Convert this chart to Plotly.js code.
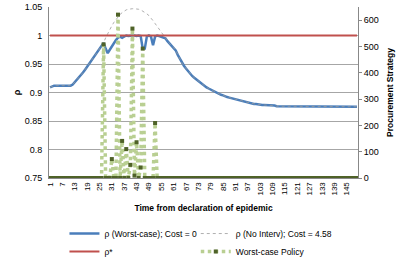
<!DOCTYPE html>
<html>
<head>
<meta charset="utf-8">
<script src="https://cdn.plot.ly/plotly-3.0.1.min.js"></script>
<style>html,body{margin:0;padding:0;background:#fff;}#chart{width:405px;height:260px;}</style>
</head>
<body>
<div id="chart"></div>
<script>
const days = [1,2,3,4,5,6,7,8,9,10,11,12,13,14,15,16,17,18,19,20,21,22,23,24,25,26,27,28,29,30,
31,32,33,34,35,36,37,38,39,40,41,42,43,44,45,46,47,48,49,50,51,52,53,54,55,56,57,58,59,60,
61,62,63,64,65,66,67,68,69,70,71,72,73,74,75,76,77,78,79,80,81,82,83,84,85,86,87,88,89,90,
91,92,93,94,95,96,97,98,99,100,101,102,103,104,105,106,107,108,109,110,111,112,113,114,115,116,117,118,119,120,
121,122,123,124,125,126,127,128,129,130,131,132,133,134,135,136,137,138,139,140,141,142,143,144,145,146,147,148,149,150];

const xTicks = [1,7,13,19,25,31,37,43,49,55,61,67,73,79,85,91,97,103,109,115,121,127,133,139,145];

const rhoWorstCase = [
0.909,0.911,0.912,0.912,0.912,0.912,0.912,0.911,0.911,0.911,
0.912,0.914,0.918,0.922,0.926,0.931,0.935,0.940,0.945,0.950,
0.955,0.961,0.966,0.971,0.977,0.982,0.987,0.977,0.969,0.975,
0.981,0.987,0.992,0.996,0.998,0.996,0.998,1.000,0.999,1.000,
1.000,1.000,0.999,1.000,0.999,0.977,0.977,0.998,1.000,0.998,
0.983,0.998,1.000,0.999,0.998,0.997,0.995,0.990,0.986,0.982,
0.979,0.974,0.966,0.959,0.952,0.947,0.942,0.937,0.933,0.929,
0.926,0.923,0.920,0.917,0.914,0.912,0.909,0.907,0.905,0.903,
0.901,0.899,0.898,0.896,0.895,0.893,0.892,0.891,0.890,0.889,
0.888,0.887,0.886,0.885,0.884,0.884,0.883,0.882,0.881,0.880,
0.880,0.879,0.879,0.878,0.878,0.878,0.877,0.877,0.877,0.877,
0.876,0.876,0.876,0.876,0.876,0.876,0.876,0.876,0.875,0.875,
0.875,0.875,0.875,0.875,0.875,0.875,0.875,0.875,0.875,0.875,
0.875,0.875,0.875,0.875,0.875,0.875,0.875,0.875,0.875,0.875,
0.875,0.875,0.875,0.875,0.875,0.875,0.875,0.875,0.875,0.875];

const rhoNoInterv = [
0.909,0.911,0.912,0.912,0.912,0.912,0.912,0.911,0.911,0.911,
0.912,0.914,0.918,0.922,0.926,0.931,0.935,0.940,0.945,0.950,
0.955,0.961,0.966,0.971,0.977,0.982,0.987,0.996,1.004,1.011,
1.017,1.023,1.028,1.033,1.037,1.040,1.043,1.045,1.046,1.047,
1.047,1.047,1.047,1.046,1.045,1.043,1.041,1.038,1.035,1.031,
1.026,1.021,1.016,1.010,1.004,0.999,0.994,0.990,0.986,0.982,
0.979,0.974,0.966,0.959,0.952,0.947,0.942,0.937,0.933,0.929,
0.926,0.923,0.920,0.917,0.914,0.912,0.909,0.907,0.905,0.903,
0.901,0.899,0.898,0.896,0.895,0.893,0.892,0.891,0.890,0.889,
0.888,0.887,0.886,0.885,0.884,0.884,0.883,0.882,0.881,0.880,
0.880,0.879,0.879,0.878,0.878,0.878,0.877,0.877,0.877,0.877,
0.876,0.876,0.876,0.876,0.876,0.876,0.876,0.876,0.875,0.875,
0.875,0.875,0.875,0.875,0.875,0.875,0.875,0.875,0.875,0.875,
0.875,0.875,0.875,0.875,0.875,0.875,0.875,0.875,0.875,0.875,
0.875,0.875,0.875,0.875,0.875,0.875,0.875,0.875,0.875,0.875];

const rhoStar = 1;

const worstCasePolicy = [
0,0,0,0,0,0,0,0,0,0,
0,0,0,0,0,0,0,0,0,0,
0,0,0,0,0,0,508,0,0,0,
72,0,0,621,0,141,0,110,0,50,
568,9,136,0,40,492,0,0,0,0,
0,209,0,0,0,0,0,0,0,0,
0,0,0,0,0,0,0,0,0,0,
0,0,0,0,0,0,0,0,0,0,
0,0,0,0,0,0,0,0,0,0,
0,0,0,0,0,0,0,0,0,0,
0,0,0,0,0,0,0,0,0,0,
0,0,0,0,0,0,0,0,0,0,
0,0,0,0,0,0,0,0,0,0,
0,0,0,0,0,0,0,0,0,0,
0,0,0,0,0,0,0,0,0,0];

const seriesNames = ['ρ (Worst-case); Cost = 0', 'ρ (No Interv); Cost = 4.58', 'ρ*', 'Worst-case Policy'];

const FONT = 'Liberation Sans, Arial, sans-serif';

const traces = [
  {x: days, y: rhoWorstCase, name: seriesNames[0], type: 'scatter', mode: 'lines',
   line: {color: '#4a7ebb', width: 2.5}, yaxis: 'y', legend: 'legend'},
  {x: days, y: rhoNoInterv, name: seriesNames[1], type: 'scatter', mode: 'lines',
   line: {color: '#9a9a9a', width: 0.8, dash: 'dot'}, yaxis: 'y', legend: 'legend2'},
  {x: [days[0], days[days.length-1]], y: [rhoStar, rhoStar], name: seriesNames[2], type: 'scatter', mode: 'lines',
   line: {color: '#c0504d', width: 2}, yaxis: 'y', legend: 'legend3'},
  {x: days, y: worstCasePolicy, name: seriesNames[3], type: 'scatter', mode: 'lines+markers',
   line: {color: '#b9cf92', width: 3.5, dash: 'dot'},
   marker: {symbol: 'square', size: 4, color: '#4f6228'}, yaxis: 'y2', legend: 'legend4'}
];

const legendCommon = {
  orientation: 'h', xanchor: 'left', yanchor: 'top',
  font: {size: 8.5}, itemwidth: 30, bgcolor: 'rgba(0,0,0,0)', borderwidth: 0
};

const layout = {
  width: 405, height: 260,
  margin: {l: 49, r: 47, t: 7, b: 82, autoexpand: false},
  paper_bgcolor: '#fff', plot_bgcolor: '#fff',
  font: {family: FONT, size: 9, color: '#000'},
  showlegend: true,
  xaxis: {
    type: 'linear', range: [0.5, 150.5], tickmode: 'array', tickvals: xTicks,
    ticktext: xTicks.map(String), tickangle: -90, tickfont: {size: 8},
    showgrid: false, zeroline: false, showline: true, linecolor: '#888', linewidth: 1,
    ticks: '', fixedrange: true, automargin: false,
    title: {text: '<b>Time from declaration of epidemic</b>', font: {size: 8.5}, standoff: 10}
  },
  yaxis: {
    range: [0.75, 1.05], showgrid: true, gridcolor: '#a6a6a6', gridwidth: 1,
    zeroline: false, showline: true, linecolor: '#888', linewidth: 1, ticks: '',
    tickfont: {size: 9}, ticklabelstandoff: 4, automargin: false,
    tickvals: [0.75, 0.8, 0.85, 0.9, 0.95, 1, 1.05],
    ticktext: ['0.75', '0.8', '0.85', '0.9', '0.95', '1', '1.05'],
    title: {text: '<b>ρ</b>', font: {size: 9}, standoff: 2}
  },
  yaxis2: {
    overlaying: 'y', side: 'right', range: [0, 650], dtick: 100, tick0: 0,
    showgrid: false, zeroline: false, showline: true, linecolor: '#888', linewidth: 1,
    ticks: 'outside', ticklen: 3, tickcolor: '#888', tickfont: {size: 9}, automargin: false,
    title: {text: '<b>Procurement Strategy</b>', font: {size: 8.5}, standoff: 9}
  },
  legend:  Object.assign({}, legendCommon, {x: 0.05, y: -0.24}),
  legend2: Object.assign({}, legendCommon, {x: 0.475, y: -0.24}),
  legend3: Object.assign({}, legendCommon, {x: 0.05, y: -0.345}),
  legend4: Object.assign({}, legendCommon, {x: 0.475, y: -0.345})
};

Plotly.newPlot('chart', traces, layout, {staticPlot: true, displayModeBar: false});
</script>
</body>
</html>
